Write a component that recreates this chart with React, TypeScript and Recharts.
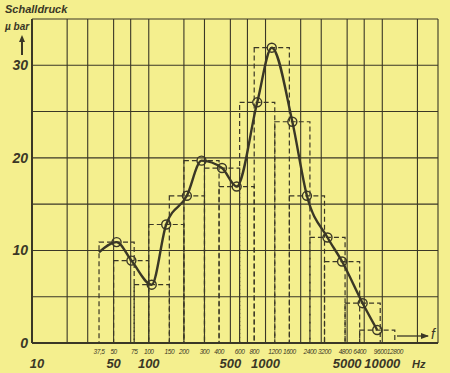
import {
	ComposedChart,
	Line,
	Scatter,
	XAxis,
	YAxis,
	CartesianGrid,
	ReferenceArea,
	ReferenceLine,
} from 'recharts';

// octave bands (Hz), overlapping by half an octave
const bandLow = [37.5, 50, 75, 100, 150, 200, 300, 400, 600, 800, 1200, 1600, 2400, 3200, 4800, 6400];
const bandHigh = [75, 100, 150, 200, 300, 400, 600, 800, 1200, 1600, 2400, 3200, 4800, 6400, 9600, 12800];
const bandCenter = [53, 71, 106, 141, 212, 283, 424, 566, 849, 1131, 1697, 2263, 3394, 4525, 6788, 9051];
// Schalldruck in µbar
const bandLevel = [10.9, 8.9, 6.3, 12.8, 15.9, 19.7, 18.9, 16.9, 26.0, 31.9, 23.9, 15.9, 11.4, 8.8, 4.3, 1.4];
// where the drawn curve starts
const curveStartF = 37.5;
const curveStartP = 9.8;

const smallTicks = [37.5, 50, 75, 100, 150, 200, 300, 400, 600, 800, 1200, 1600, 2400, 3200, 4800, 6400, 9600, 12800];
const smallLabels = ['37,5', '50', '75', '100', '150', '200', '300', '400', '600', '800', '1200', '1600', '2400', '3200', '4800', '6400', '9600', '12800'];
const majorTicks = [10, 50, 100, 500, 1000, 5000, 10000];
const gridTicks = [20, 30, 50, 70, 100, 200, 300, 500, 700, 1000, 2000, 3000, 5000, 7000, 10000, 20000, 30000];
const yTicks = [0, 5, 10, 15, 20, 25, 30, 35];
const yLabels = [0, 10, 20, 30];

const INK = '#3a3726';
const PAPER = '#f4ef8e';
const FONT = '"Liberation Sans", Arial, sans-serif';

const points = bandCenter.map((f, i) => ({ f, p: bandLevel[i] }));
const curve = [{ f: curveStartF, p: curveStartP }, ...points];
const labelTicks = Array.from(new Set([...majorTicks, ...smallTicks])).sort((a, b) => a - b);

const FreqTick = (props: any) => {
	const { x, y, payload } = props;
	const v = payload.value;
	const si = smallTicks.indexOf(v);
	const major = majorTicks.includes(v);
	return (
		<g>
			{si >= 0 && (
				<text x={x} y={y + 11} textAnchor='middle' fontFamily={FONT} fontStyle='italic' fontSize={6.5} letterSpacing={-0.4} fill={INK}>
					{smallLabels[si]}
				</text>
			)}
			{major && (
				<text x={v === 10 ? x + 5 : x} y={y + 25} textAnchor='middle' fontFamily={FONT} fontStyle='italic' fontWeight='bold' fontSize={13} fill={INK}>
					{v}
				</text>
			)}
		</g>
	);
};

const PressureTick = (props: any) => {
	const { x, y, payload } = props;
	if (!yLabels.includes(payload.value)) return <g />;
	return (
		<text x={x} y={y + 5} textAnchor='end' fontFamily={FONT} fontStyle='italic' fontWeight='bold' fontSize={14} fill={INK}>
			{payload.value}
		</text>
	);
};

const Ring = (props: any) => {
	const { cx, cy } = props;
	return <circle cx={cx} cy={cy} r={4.5} fill='none' stroke={INK} strokeWidth={1.4} />;
};

const App = () => {
	return (
		<div style={{ position: 'absolute', left: 0, top: 0, width: 450, height: 373, background: PAPER }}>
			<ComposedChart width={450} height={373} margin={{ top: 19, right: 12, bottom: 0, left: 0 }}>
				<XAxis
					xAxisId='f'
					dataKey='f'
					type='number'
					scale='log'
					domain={[10, 30000]}
					ticks={labelTicks}
					interval={0}
					tick={<FreqTick />}
					tickLine={false}
					tickSize={0}
					tickMargin={0}
					axisLine={{ stroke: INK, strokeWidth: 2 }}
					height={30}
				/>
				<YAxis
					type='number'
					domain={[0, 35]}
					ticks={yTicks}
					interval={0}
					tick={<PressureTick />}
					tickLine={false}
					tickSize={0}
					tickMargin={4}
					axisLine={{ stroke: INK, strokeWidth: 2 }}
					width={32}
				/>
				<CartesianGrid xAxisId='f' vertical={false} stroke={INK} strokeWidth={1.1} />
				{gridTicks.map((g) => (
					<ReferenceLine key={g} xAxisId='f' x={g} stroke={INK} strokeWidth={1.1} />
				))}
				{bandLow.map((lo, i) => (
					<ReferenceArea
						key={i}
						xAxisId='f'
						x1={lo}
						x2={bandHigh[i]}
						y1={0}
						y2={bandLevel[i]}
						fill='none'
						stroke={INK}
						strokeWidth={1.2}
						strokeDasharray='5 3'
					/>
				))}
				<Line
					xAxisId='f'
					data={curve}
					dataKey='p'
					type='monotone'
					stroke={INK}
					strokeWidth={2.4}
					dot={false}
					activeDot={false}
					isAnimationActive={false}
				/>
				<Scatter xAxisId='f' data={points} dataKey='p' shape={<Ring />} isAnimationActive={false} />
			</ComposedChart>
			<svg width={450} height={373} style={{ position: 'absolute', left: 0, top: 0, pointerEvents: 'none' }}>
				<text x={5} y={13} fontFamily={FONT} fontStyle='italic' fontWeight='bold' fontSize={11} fill={INK}>
					Schalldruck
				</text>
				<text x={5} y={30} fontFamily={FONT} fontStyle='italic' fontWeight='bold' fontSize={10} fill={INK}>
					µ bar
				</text>
				<line x1={22} y1={55} x2={22} y2={40} stroke={INK} strokeWidth={2} />
				<path d='M19,42 L22,35 L25,42 Z' fill={INK} />
				<text x={412} y={368} fontFamily={FONT} fontStyle='italic' fontWeight='bold' fontSize={11} fill={INK}>
					Hz
				</text>
				<line x1={397} y1={336} x2={428} y2={336} stroke={INK} strokeWidth={1.3} />
				<path d='M421,333 L429,336 L421,339 Z' fill={INK} />
				<text x={431} y={339} fontFamily={FONT} fontStyle='italic' fontSize={14} fill={INK}>
					f
				</text>
			</svg>
		</div>
	);
};

export default App;
